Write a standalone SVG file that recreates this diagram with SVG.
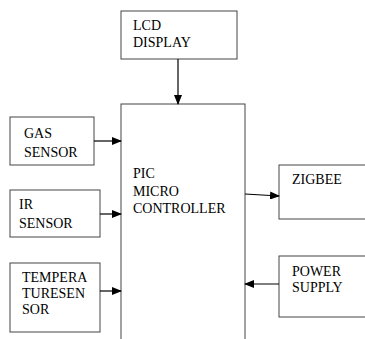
<svg xmlns="http://www.w3.org/2000/svg" width="365" height="339" viewBox="0 0 365 339">
<defs>
<marker id="ah" markerWidth="10" markerHeight="8" refX="9" refY="4" orient="auto" markerUnits="userSpaceOnUse">
<path d="M0,0 L10,4 L0,8 Z" fill="#000"/>
</marker>
<style>
.box{fill:#fff;stroke:#444;stroke-width:1}
.t{font-family:'Liberation Serif','Times New Roman',serif;font-size:14px;fill:#000}
.c{stroke:#000;stroke-width:1.2;fill:none;marker-end:url(#ah)}
</style>
</defs>
<rect width="365" height="339" fill="#fff"/>
<g id="lcd"><rect class="box" x="121" y="11" width="116" height="48"/><text class="t" x="133" y="30">LCD</text><text class="t" x="133" y="47">DISPLAY</text></g>
<g id="pic"><rect class="box" x="121" y="104" width="124" height="240"/><text class="t" x="133" y="178">PIC</text><text class="t" x="133" y="196">MICRO</text><text class="t" x="133" y="213">CONTROLLER</text></g>
<g id="gas"><rect class="box" x="10" y="117" width="84" height="48"/><text class="t" x="24" y="138" font-size="15">GAS</text><text class="t" x="24" y="157" font-size="15">SENSOR</text></g>
<g id="ir"><rect class="box" x="10" y="190" width="90" height="47"/><text class="t" x="19" y="209" font-size="15">IR</text><text class="t" x="19" y="228" font-size="15">SENSOR</text></g>
<g id="temp"><rect class="box" x="10" y="263" width="90" height="69"/><text class="t" x="22" y="282" font-size="12.5">TEMPERA</text><text class="t" x="22" y="298" font-size="12.5">TURESEN</text><text class="t" x="22" y="314" font-size="12.5">SOR</text></g>
<g id="zigbee"><rect class="box" x="279" y="165" width="90" height="54"/><text class="t" x="292" y="184" font-size="15.5">ZIGBEE</text></g>
<g id="power"><rect class="box" x="279" y="256" width="90" height="61"/><text class="t" x="292" y="276">POWER</text><text class="t" x="292" y="292">SUPPLY</text></g>
<g id="connectors">
<line class="c" x1="178" y1="59" x2="178" y2="104"/>
<line class="c" x1="94" y1="141" x2="121" y2="141"/>
<line class="c" x1="100" y1="214" x2="121" y2="214"/>
<line class="c" x1="100" y1="291" x2="121" y2="291"/>
<line class="c" x1="245" y1="194" x2="279" y2="196"/>
<line class="c" x1="279" y1="284" x2="245" y2="284"/>
</g>
</svg>
